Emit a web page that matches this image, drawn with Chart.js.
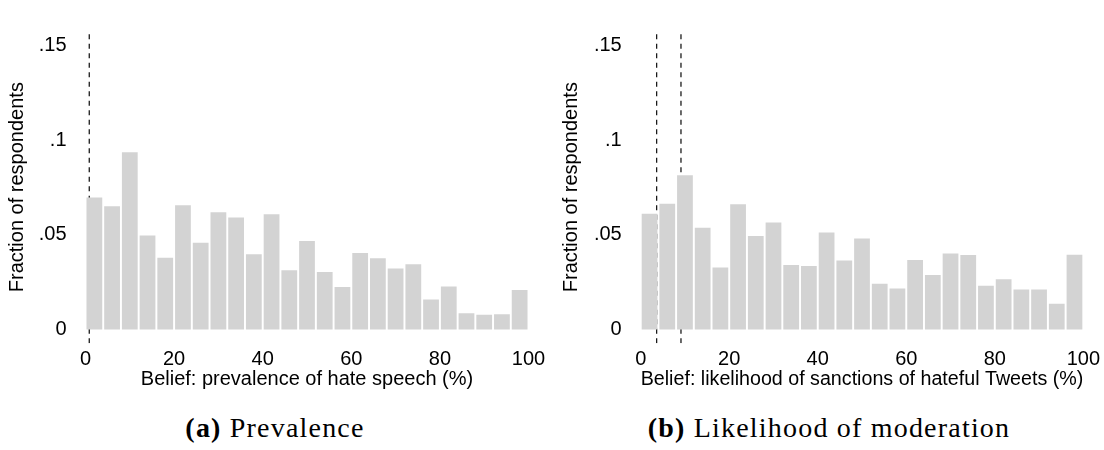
<!DOCTYPE html>
<html>
<head>
<meta charset="utf-8">
<script src="https://cdn.jsdelivr.net/npm/chart.js@4.4.1/dist/chart.umd.min.js"></script>
<style>
  html, body { margin: 0; padding: 0; background: #fff; }
  body { width: 1104px; height: 450px; position: relative; overflow: hidden; }
  .panel { position: absolute; top: 0; width: 550px; height: 400px; }
  .caption {
    position: absolute; top: 414px; width: 550px; text-align: center;
    font-family: "Liberation Serif", "DejaVu Serif", serif;
    font-size: 28px; line-height: 28px; letter-spacing: 1.2px; color: #000;
  }
  .caption b { font-weight: bold; }
</style>
</head>
<body>
<div class="panel" style="left:0"><canvas id="prevalence"></canvas></div>
<div class="panel" style="left:554px"><canvas id="moderation"></canvas></div>
<div class="caption" style="left:0"><b>(a)</b> Prevalence</div>
<div class="caption" style="left:554px"><b>(b)</b> Likelihood of moderation</div>

<script>
// Histogram bins (centre of each 4-point bin on the 0-100 belief scale)
const binCenters = [2, 6, 10, 14, 18, 22, 26, 30, 34, 38, 42, 46, 50,
                    54, 58, 62, 66, 70, 74, 78, 82, 86, 90, 94, 98];

// Fraction of respondents per bin
const prevalenceShare = [0.0697, 0.0651, 0.0936, 0.0497, 0.0379, 0.0656, 0.0458,
                         0.0619, 0.0591, 0.0398, 0.0609, 0.0313, 0.0468, 0.0304,
                         0.0224, 0.0404, 0.0377, 0.0322, 0.0344, 0.0158, 0.0227,
                         0.0086, 0.0078, 0.0080, 0.0208];
const moderationShare = [0.0612, 0.0664, 0.0815, 0.0538, 0.0327, 0.0661, 0.0494,
                         0.0565, 0.0341, 0.0335, 0.0513, 0.0364, 0.0481, 0.0242,
                         0.0216, 0.0367, 0.0288, 0.0401, 0.0393, 0.0231, 0.0265,
                         0.0211, 0.0211, 0.0136, 0.0395];

// Reference values marked with dashed vertical lines
const prevalenceMarkers = [0.85];
const moderationMarkers = [3.6, 9.1];

// Axis ticks
const xTickValues = [0, 20, 40, 60, 80, 100];
const xTickLabels = ['0', '20', '40', '60', '80', '100'];
const yTickValues = [0, 0.05, 0.1, 0.15];
const yTickLabels = ['0', '.05', '.1', '.15'];

const Y_MIN = -0.0073;
const Y_MAX = 0.1577;
const PANEL_W = 550;
const PANEL_H = 400;
const AREA_BOTTOM = 343.3;

const textFont = { family: '"Liberation Sans", Arial, sans-serif', size: 20 };
const textColor = '#000';

function histogram(canvasId, shares, markers, xTitle, areaLeft, areaRight) {
  const datasets = [{
    type: 'bar',
    data: binCenters.map((c, i) => ({ x: c, y: shares[i] })),
    backgroundColor: '#d3d3d3',
    borderWidth: 0,
    barPercentage: 0.89,
    categoryPercentage: 1,
    order: 0
  }];
  markers.forEach(m => datasets.push({
    type: 'line',
    data: [{ x: m, y: Y_MIN }, { x: m, y: Y_MAX }],
    borderColor: '#1a1a1a',
    borderWidth: 1.3,
    borderDash: [5, 4.5],
    pointRadius: 0,
    fill: false,
    order: 1
  }));

  return new Chart(document.getElementById(canvasId), {
    type: 'bar',
    data: { datasets },
    options: {
      responsive: true,
      maintainAspectRatio: false,
      animation: false,
      events: [],
      layout: { padding: { left: 0, right: PANEL_W - areaRight, top: 5, bottom: 0 } },
      plugins: { legend: { display: false }, tooltip: { enabled: false } },
      scales: {
        x: {
          type: 'linear',
          min: 0, max: 100,
          offset: false,
          grid: { display: false, drawTicks: false },
          border: { display: false },
          afterBuildTicks: s => { s.ticks = xTickValues.map(v => ({ value: v })); },
          ticks: {
            autoSkip: false, maxRotation: 0, padding: 4,
            font: textFont, color: textColor,
            callback: (v, i) => xTickLabels[i]
          },
          title: {
            display: true, text: xTitle, font: textFont, color: textColor,
            padding: { top: 0, bottom: 9 }
          },
          afterFit: s => { s.height = PANEL_H - AREA_BOTTOM; }
        },
        y: {
          min: Y_MIN, max: Y_MAX,
          grid: { display: false, drawTicks: false },
          border: { display: false },
          afterBuildTicks: s => { s.ticks = yTickValues.map(v => ({ value: v })); },
          ticks: {
            autoSkip: false, padding: 19,
            font: textFont, color: textColor,
            callback: (v, i) => yTickLabels[i]
          },
          title: {
            display: true, text: 'Fraction of respondents', font: textFont, color: textColor,
            padding: { top: 5, bottom: 0 }
          },
          afterFit: s => { s.width = areaLeft; }
        }
      }
    }
  });
}

histogram('prevalence', prevalenceShare, prevalenceMarkers,
          'Belief: prevalence of hate speech (%)', 85.5, 528.5);
histogram('moderation', moderationShare, moderationMarkers,
          'Belief: likelihood of sanctions of hateful Tweets (%)', 86.7, 530.5);
</script>
</body>
</html>
